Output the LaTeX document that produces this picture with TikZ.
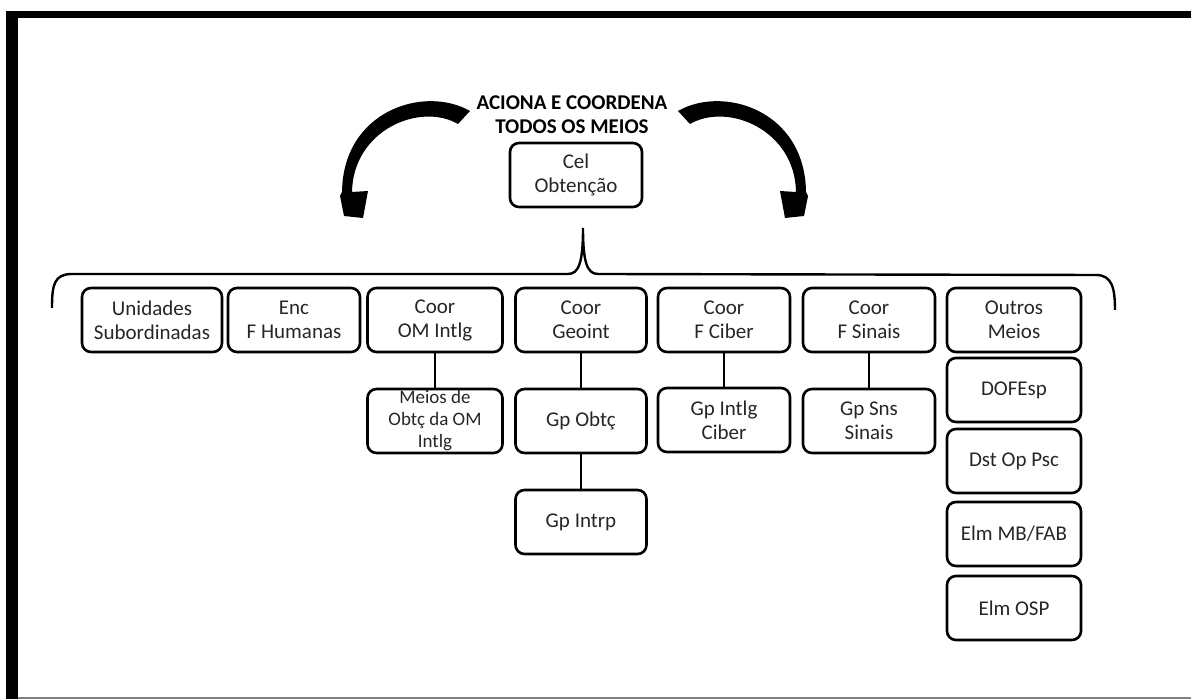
\documentclass[tikz,border=0pt]{standalone}
\usepackage{fontspec}
\setmainfont{Carlito}
\tikzset{
  unitbox/.style={draw, line width=1.3pt, rounded corners=4.5pt, minimum width=66pt,
    minimum height=32pt, inner sep=1pt, align=center,
    font=\fontsize{10.5}{12}\selectfont, text=black!85},
  link/.style={line width=1.3pt}
}
\begin{document}
\begin{tikzpicture}[x=0.5pt, y=-0.5pt]
  \useasboundingbox (0,0) rectangle (1191,699);
  % moldura
  \fill (6,11) rectangle (18,699);
  \fill (6,11) rectangle (1191,18);
  \draw[gray, line width=1pt] (18,698) -- (1191,698);

  % topo
  \node[font=\bfseries\fontsize{10.5}{12}\selectfont, align=center] (titulo) at (572,115) {ACIONA E COORDENA\\TODOS OS MEIOS};
  \node[unitbox] (cel) at (576,175) {Cel\\Obtenção};

  % setas curvas (esquerda e espelhada)
  \foreach \s/\dx in {1/0, -1/1148} {
    \fill[shift={(\dx,0)}, xscale=\s] (470,111) .. controls (425,85) and (343,110) .. (342,192)
      -- (340,196) -- (344,216) -- (363,218) -- (368,191) -- (352,192)
      .. controls (353,130) and (420,102) .. (458,124) -- cycle;
  }

  % chave
  \draw[line width=1.2pt] (52,308) .. controls (52,285) and (54,274) .. (72,274) -- (568,274)
    .. controls (579,274) and (583,262) .. (583,228)
    .. controls (583,262) and (587,274) .. (598,274) -- (1096,275)
    .. controls (1112,275) and (1115,288) .. (1115,310);

  % primeira linha
  \node[unitbox, minimum width=70pt] (unid) at (152,320) {Unidades\\Subordinadas};
  \node[unitbox] (enc) at (294,320) {Enc\\F Humanas};
  \node[unitbox, minimum width=67.5pt] (coorom) at (435,320) {Coor\\OM Intlg};
  \node[unitbox, minimum width=65.5pt] (coorgeo) at (581,320) {Coor\\Geoint};
  \node[unitbox] (coorciber) at (724,320) {Coor\\F Ciber};
  \node[unitbox] (coorsin) at (869,320) {Coor\\F Sinais};
  \node[unitbox, minimum width=67pt] (outros) at (1014,320) {Outros\\Meios};

  % subordinados
  \node[unitbox, minimum width=67.5pt, inner sep=0pt, font=\fontsize{9.5}{11}\selectfont] (meiosom) at (435,421) {Meios de\\Obtç da OM\\Intlg};
  \node[unitbox, minimum width=65.5pt] (gpobtc) at (581,421) {Gp Obtç};
  \node[unitbox, minimum width=65.5pt] (gpintrp) at (581,522) {Gp Intrp};
  \node[unitbox] (gpciber) at (724,420) {Gp Intlg\\Ciber};
  \node[unitbox] (gpsns) at (869,421) {Gp Sns\\Sinais};

  % outros meios
  \node[unitbox, minimum width=67pt] (dofesp) at (1014,390) {DOFEsp};
  \node[unitbox, minimum width=67pt] (dstop) at (1014,461) {Dst Op Psc};
  \node[unitbox, minimum width=67pt] (elmmb) at (1014,534) {Elm MB/FAB};
  \node[unitbox, minimum width=67pt] (elmosp) at (1014,608) {Elm OSP};

  \draw[link] (coorom) -- (meiosom);
  \draw[link] (coorgeo) -- (gpobtc);
  \draw[link] (gpobtc) -- (gpintrp);
  \draw[link] (coorciber) -- (gpciber);
  \draw[link] (coorsin) -- (gpsns);
\end{tikzpicture}
\end{document}
